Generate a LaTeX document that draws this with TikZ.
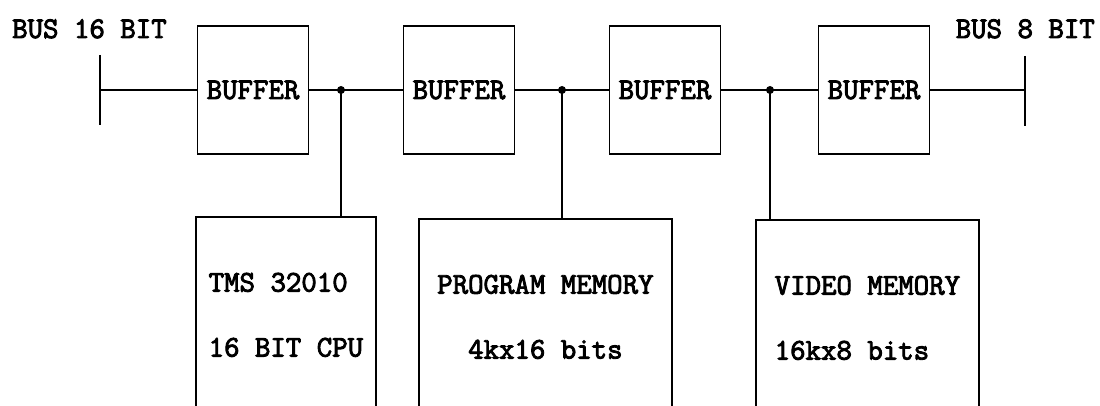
\documentclass[tikz,border=0pt]{standalone}
\usepackage{fontspec}
\newfontfamily\typewr[FakeBold=3]{Latin Modern Mono}
\usetikzlibrary{positioning}
\tikzset{
  lbl/.style={font=\typewr\fontsize{30}{65}\selectfont, inner sep=0pt},
  bufbox/.style={draw, line width=1.8pt, minimum width=111pt, minimum height=128pt, inner sep=0pt, lbl},
  membox/.style={draw, line width=1.8pt, anchor=north west, minimum height=196pt, inner sep=0pt, lbl},
  busline/.style={line width=1.8pt},
  jdot/.style={circle, fill=black, minimum size=8pt, inner sep=0pt}
}

\begin{document}
\begin{tikzpicture}[x=1pt, y=-1pt]
  \useasboundingbox (0,0) rectangle (1100,406);
  \clip (0,0) rectangle (1100,406);

  % bus ends
  \node[lbl, anchor=base west] (bus16) at (12,38) {BUS 16 BIT};
  \node[lbl, anchor=base east] (bus8) at (1095,38) {BUS 8 BIT};
  \coordinate (lbus) at (100,90);
  \coordinate (rbus) at (1025,90);
  \draw[busline] ([yshift=35pt]lbus) -- ([yshift=-35pt]lbus);
  \draw[busline] ([yshift=34pt]rbus) -- ([yshift=-36pt]rbus);

  % buffers
  \node[bufbox] (buf1) at (253,90) {BUFFER};
  \node[bufbox] (buf2) at (459,90) {BUFFER};
  \node[bufbox] (buf3) at (665,90) {BUFFER};
  \node[bufbox] (buf4) at (874,90) {BUFFER};

  % junctions
  \node[jdot] (j1) at (341,90) {};
  \node[jdot] (j2) at (562,90) {};
  \node[jdot] (j3) at (770,90) {};

  % memory and cpu
  \node[membox, minimum width=180pt, align=left] (cpu) at (195,216) {TMS 32010\\16 BIT CPU};
  \node[membox, minimum width=253pt, align=center] (pmem) at (418,218) {PROGRAM MEMORY\\4kx16 bits};
  \node[membox, minimum width=223pt, align=left] (vmem) at (755,219) {VIDEO MEMORY\\16kx8 bits};

  \draw[busline] (lbus) -- (buf1.west);
  \draw[busline] (buf1.east) -- (buf2.west);
  \draw[busline] (buf2.east) -- (buf3.west);
  \draw[busline] (buf3.east) -- (buf4.west);
  \draw[busline] (buf4.east) -- (rbus);
  \draw[busline] (j1.center) -- (j1 |- cpu.north);
  \draw[busline] (j2.center) -- (j2 |- pmem.north);
  \draw[busline] (j3.center) -- (j3 |- vmem.north);
\end{tikzpicture}
\end{document}
